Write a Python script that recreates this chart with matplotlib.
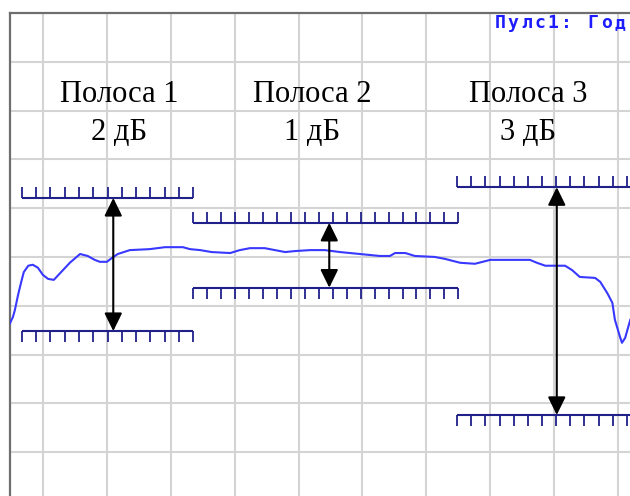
import numpy as np
import matplotlib
matplotlib.use('Agg')
import matplotlib.pyplot as plt

# measured trace, in screen divisions (x: horizontal div, y: vertical div)
trace_x = [-0.52, -0.47, -0.44, -0.39, -0.34, -0.30, -0.23, -0.16, -0.08, 0.00,
           0.08, 0.17, 0.27, 0.42, 0.58, 0.70, 0.81, 0.89, 1.00, 1.08,
           1.17, 1.36, 1.67, 1.91, 2.19, 2.30, 2.46, 2.64, 2.93, 3.08,
           3.24, 3.47, 3.63, 3.79, 3.94, 4.18, 4.41, 4.65, 4.96, 5.27,
           5.43, 5.51, 5.67, 5.82, 6.13, 6.29, 6.53, 6.76, 7.00, 7.62,
           7.73, 7.86, 8.17, 8.28, 8.40, 8.64, 8.72, 8.83, 8.91, 8.95,
           9.03, 9.06, 9.11, 9.19]
trace_y = [3.63, 3.77, 3.91, 4.22, 4.49, 4.69, 4.82, 4.84, 4.78, 4.63,
           4.55, 4.53, 4.67, 4.88, 5.06, 5.02, 4.94, 4.90, 4.90, 4.98,
           5.06, 5.14, 5.16, 5.20, 5.20, 5.16, 5.14, 5.10, 5.08, 5.14,
           5.18, 5.18, 5.14, 5.10, 5.12, 5.14, 5.14, 5.10, 5.06, 5.02,
           5.02, 5.08, 5.08, 5.02, 5.00, 4.96, 4.88, 4.86, 4.94, 4.94,
           4.88, 4.82, 4.82, 4.73, 4.59, 4.57, 4.49, 4.26, 4.06, 3.71,
           3.36, 3.24, 3.34, 3.71]

band_labels = ['Полоса 1', 'Полоса 2', 'Полоса 3']
band_db = [2, 1, 3]
band_start = [-0.33, 2.35, 6.48]
band_end = [2.35, 6.50, 9.36]
band_upper = [6.21, 5.70, 6.43]
band_lower = [3.48, 4.37, 1.76]
arrow_x = [1.10, 4.48, 8.04]
label_x = [1.19, 4.21, 7.59]

header = 'Пулс1: Год'

LIMIT_C = '#20208a'
TOOTH = 0.225
STEP = 0.222

fig = plt.figure(figsize=(6.3, 4.96), dpi=100)
ax = fig.add_axes([10 / 630, 0, 620 / 630, 483 / 496])
ax.set_xlim(-0.516, 9.186)
ax.set_ylim(0.10, 10.0)

ax.set_xticks(range(10))
ax.set_yticks(range(1, 10))
ax.tick_params(length=0, labelbottom=False, labelleft=False)
ax.grid(color='#d4d4d4', lw=1.5)
ax.set_axisbelow(True)
for s in ['right', 'bottom']:
    ax.spines[s].set_visible(False)
for s in ['left', 'top']:
    ax.spines[s].set_color('#6e6e6e')
    ax.spines[s].set_linewidth(1.6)

ax.plot(trace_x, trace_y, color='#3838ff', lw=1.5, zorder=3)

for i in range(3):
    x0, x1 = band_start[i], band_end[i]
    n = int(round((x1 - x0) / STEP))
    teeth = np.linspace(x0, x1, n + 1)
    up, lo = band_upper[i], band_lower[i]
    ax.hlines(up, x0, x1, color=LIMIT_C, lw=1.5, zorder=4)
    ax.vlines(teeth, up, up + TOOTH, color=LIMIT_C, lw=1.3, zorder=4)
    ax.hlines(lo, x0, x1, color=LIMIT_C, lw=1.5, zorder=4)
    ax.vlines(teeth, lo - TOOTH, lo, color=LIMIT_C, lw=1.3, zorder=4)

    ax.annotate('', xy=(arrow_x[i], lo), xytext=(arrow_x[i], up),
                arrowprops=dict(arrowstyle='<|-|>,head_length=0.55,head_width=0.27',
                                mutation_scale=20, color='black', lw=1.5,
                                shrinkA=0, shrinkB=0), zorder=5)

    ax.text(label_x[i], 8.18, band_labels[i], ha='center', va='baseline',
            family='Liberation Serif', fontsize=22, color='black')
    ax.text(label_x[i], 7.40, '{} дБ'.format(band_db[i]), ha='center', va='baseline',
            family='Liberation Serif', fontsize=22, color='black')

# instrument header, fixed pitch
for k, ch in enumerate(header):
    ax.text(7.15 + k * 0.208, 9.69, ch, ha='center', va='baseline',
            family='DejaVu Sans Mono', fontsize=13, fontweight='bold',
            color='#1c1cff', clip_on=True)

fig.savefig('out.png', dpi=100)
